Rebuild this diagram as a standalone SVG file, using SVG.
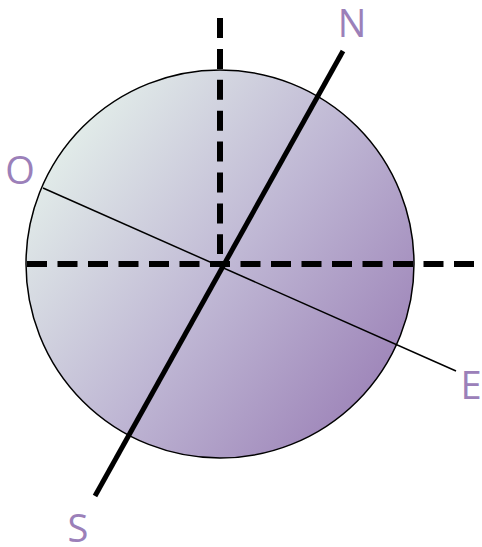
<svg xmlns="http://www.w3.org/2000/svg" width="482" height="547" viewBox="0 0 482 547">
<defs>
<linearGradient id="g" x1="40" y1="140" x2="405" y2="420" gradientUnits="userSpaceOnUse">
<stop offset="0" stop-color="#e5f1eb"/>
<stop offset="0.5" stop-color="#bfb7d4"/>
<stop offset="1" stop-color="#987cb4"/>
</linearGradient>
<style>
.lbl{font-family:"Open Sans","Liberation Sans",sans-serif;font-size:38px;fill:#9b80b9;}
.dash{stroke:#000;stroke-width:6;fill:none;}
</style>
</defs>
<g id="globe">
<circle cx="220" cy="264" r="194" fill="url(#g)" stroke="#000" stroke-width="1.5"/>
</g>
<g id="connectors">
<line class="dash" x1="27" y1="264" x2="474" y2="264" stroke-dasharray="20 10.5"/>
<line class="dash" x1="220" y1="18" x2="220" y2="254" stroke-dasharray="20 10.9"/>
<line x1="43" y1="188" x2="456" y2="371" stroke="#000" stroke-width="1.5"/>
<line x1="343" y1="51" x2="95" y2="496" stroke="#000" stroke-width="5"/>
</g>
<g id="label-N"><text class="lbl" x="352" y="37" text-anchor="middle">N</text></g>
<g id="label-O"><text class="lbl" x="20" y="184" text-anchor="middle">O</text></g>
<g id="label-E"><text class="lbl" x="471" y="399" text-anchor="middle">E</text></g>
<g id="label-S"><text class="lbl" x="78" y="542" text-anchor="middle">S</text></g>
</svg>
